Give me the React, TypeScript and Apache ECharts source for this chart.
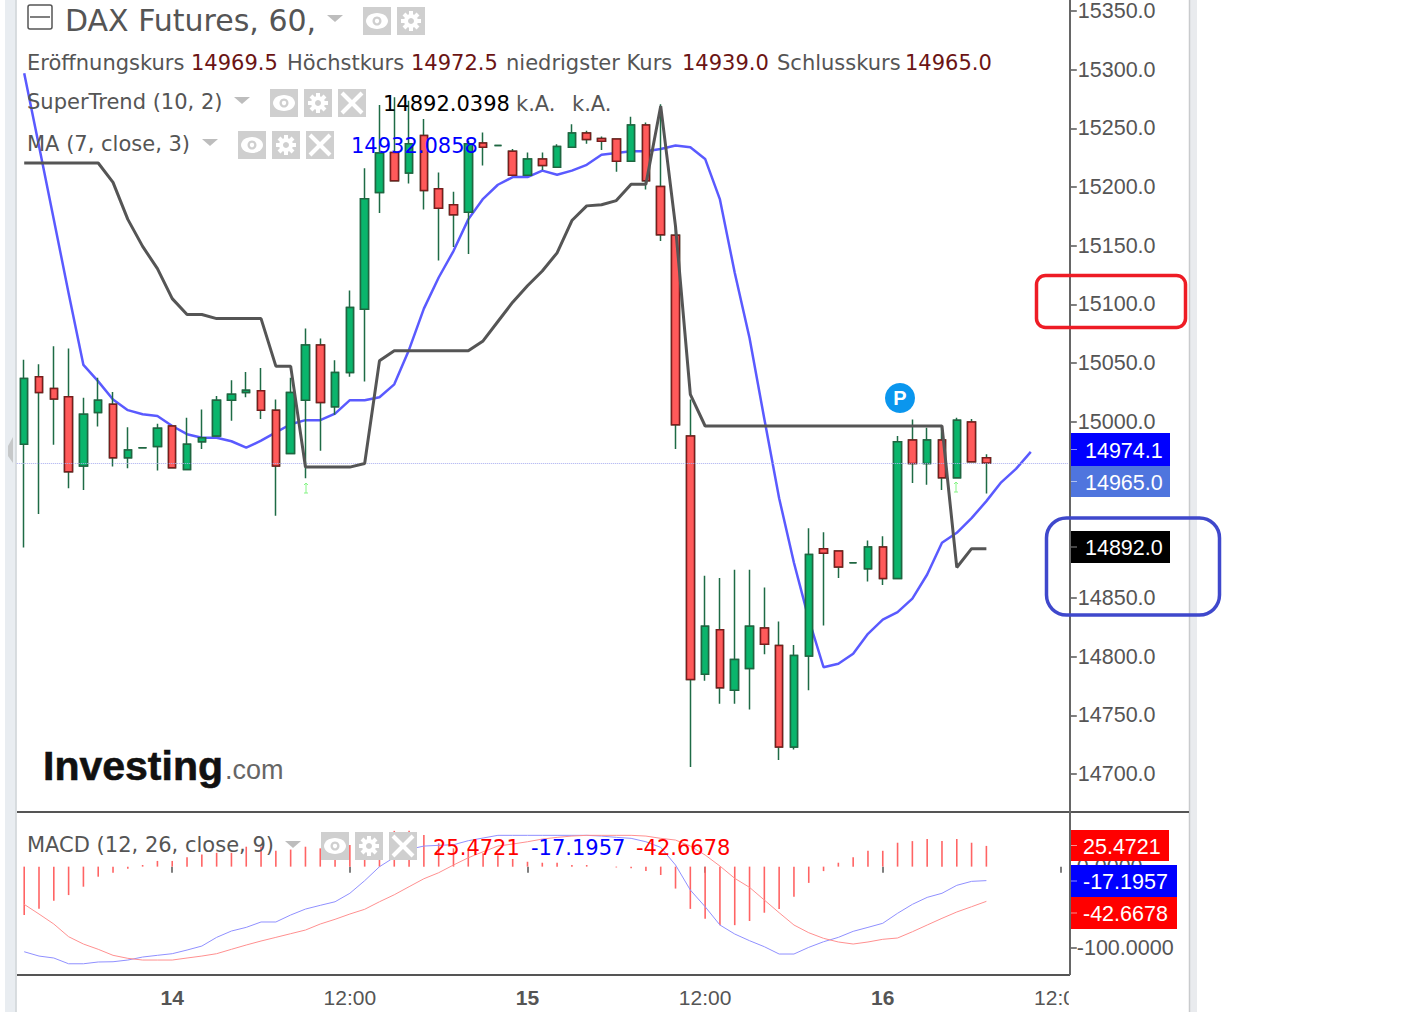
import React, { useEffect, useRef } from "react";
import * as echarts from "echarts";

// [open, close, low, high]
const candles: number[][] = [
  [14981,15037,14893,15053],[15038.5,15025,14921.5,15049],[15028.5,15019.5,14980.5,15064.5],[15021.5,14957.5,14943.5,15062.5],
  [14962.5,15006.5,14942,15020.5],[15008,15018.5,14996,15037.5],[15015,14969.5,14962,15025.5],[14969.5,14976,14960.5,14995.5],
  [14978,14978,14978,14978],[14979,14994.5,14958.5,14998.5],[14996.5,14961,14961,14996.5],[14959.5,14981,14959.5,15003.5],
  [14983,14986.5,14977,15010.5],[14988,15018.5,14988,15022],[15018.5,15023.5,15001,15035.5],[15025,15027,15021,15042.5],
  [15026.5,15010,15002.5,15046],[15010,14962.5,14920,15019],[14973,15025,14973,15037.5],[15018.5,15065.5,14952,15079.5],
  [15065.5,15016.5,14975.5,15071],[15013,15042,15006,15052.5],[15042,15097.5,15038.5,15112],[15096,15190,15034.5,15216],
  [15195.5,15229,15178,15270],[15229.5,15205.5,15205.5,15276.5],[15212,15237,15203,15273.5],[15244,15197,15181,15258],
  [15198.5,15182,15137.5,15212.5],[15185,15176.5,15149,15196],[15178.5,15237,15143,15239.5],[15237.5,15234,15218.5,15246.5],
  [15235.5,15235.5,15235.5,15235.5],[15230.5,15210,15210,15232.5],[15210,15224,15210,15229.5],[15224,15218.5,15214.5,15229.5],
  [15217,15234.5,15217,15236.5],[15234,15246,15234,15253.5],[15246,15240.5,15237,15248],[15241.5,15239,15231.5,15243],
  [15241,15222,15213,15241],[15222,15253,15222,15260],[15253,15205.5,15198,15255],[15200.5,15159.5,15154,15270.5],
  [15159,14997.5,14977,15166.5],[14988,14780.5,14706,15019],[14785,14826,14779.5,14869],[14823,14773.5,14760,14867],
  [14771.5,14797.5,14760,14874],[14790,14826,14755,14874],[14824.5,14810.5,14802,14859],[14809.5,14723,14712,14830],
  [14723,14801,14721,14810],[14800.5,14887,14771.5,14909.5],[14892,14888,14826.5,14906],[14890,14876.5,14867,14890],
  [14880,14880,14880,14880],[14875,14893.5,14864,14899],[14893.5,14866.5,14861,14902.5],[14866.5,14983,14866.5,14988],
  [14984.5,14964.5,14948,15002],[14964.5,14984.5,14946.5,14995],[14984.5,14952.5,14942,14995.5],[14952.5,15001.5,14952.5,15003.5],
  [15000,14966,14966,15002.5],[14969.5,14965,14939,14972.5],
];

const superTrend: number[] = [
  15220.5,15220.5,15220.5,15220.5,15220.5,15220.5,15204,15172.5,15149.5,15130.5,15105,15091.5,15091.5,15088,15088,15088,15088,
  15047.5,15047.5,14961.5,14961.5,14961.5,14961.5,14964.5,15052,15060.5,15060.5,15060.5,15060.5,15060.5,15060.5,15069,15085.5,
  15102,15116,15128.5,15144,15171.5,15184,15185,15188.5,15202.5,15202.5,15269,15166.5,15023.5,14996.5,14996.5,14996.5,14996.5,
  14996.5,14996.5,14996.5,14996.5,14996.5,14996.5,14996.5,14996.5,14996.5,14996.5,14996.5,14996.5,14996.5,14876,14892,14892,
];

const movingAverage: number[] = [
  15297,15235,15172.5,15109.5,15048.5,15034.5,15019,15010,15006.5,15005,14996.5,14989.5,14986.5,14986.5,14983.5,14978,14984,14991,
  14998,15001.5,15001.5,15007,15018.5,15018.5,15021,15032,15061.5,15096.5,15123,15145.5,15172.5,15190,15202,15208.5,15208.5,15214,
  15210.5,15214,15219,15227.5,15229,15230.5,15230.5,15232.5,15235.5,15234,15224,15189.5,15127,15071.5,15002.5,14935,14880,14832,
  14791,14794,14802.5,14819.5,14831.5,14838,14849.5,14870,14897,14905.5,14918,14932.5,14948.5,14960,14974.5,
];

const macdHist: number[] = [
  -59.5,-51.8,-42,-35,-24.7,-12.4,-7.5,-2.6,2,7,7,11.4,15,17,17,24.5,24.5,19.5,21,24.5,22.5,25.3,26.5,32.7,39,44,44,39,28.7,22.5,19.5,
  16.4,14,9.3,6,4.8,4.8,2,2,0,-1,-2,-5.5,-10.3,-27,-52,-64,-72,-72,-66.9,-56.7,-52,-37,-20,-5.5,4.8,11.4,19.5,19.5,29.4,31.4,34,31.4,34,29.4,25.5,
];

const macdLine: number[] = [
  -104.7,-110,-112.4,-119.5,-119.5,-117.3,-117,-114.9,-111.2,-109.1,-107.1,-102.6,-97.7,-87,-79.2,-74.7,-68.1,-68.1,-59.5,-52.2,-47.6,
  -43.2,-32.8,-17.3,-0.1,11.4,21.3,25.3,26.2,26.9,31.9,35.2,38.5,38.5,38.5,38.5,38.5,38.5,38.5,37.6,36,34.8,30.6,23.7,2,-28.8,-49.3,
  -71.8,-82.9,-91.1,-98.5,-107.5,-107.5,-99.3,-92.4,-87,-79.6,-74.7,-69.7,-57.4,-46.4,-37.8,-32.8,-23,-18.1,-17.2,
];

const signalLine: number[] = [
  -46.4,-58.3,-70.6,-86.2,-95.2,-101.7,-109.1,-112.8,-114.9,-114.9,-114.9,-112.4,-110,-107.1,-101.7,-96.4,-91.5,-87,-82.5,-78,-70.6,
  -64.8,-58.3,-52.5,-43.2,-34.6,-24.7,-14.9,-7.5,2,10.9,18.3,25.3,27.8,30.6,33.9,36,37.6,38.5,38.5,38.5,38.5,37.6,34.8,32.7,25.3,14.3,
  0.7,-14.4,-25.5,-41.1,-56.7,-71.8,-81.3,-88.2,-92.7,-95.2,-92.7,-89.4,-87.8,-80.1,-71.8,-63.6,-55.8,-49.3,-42.7,
];

const priceTicks: number[] = [14700,14750,14800,14850,14900,14950,15000,15050,15100,15150,15200,15250,15300,15350];
const macdTicks: number[] = [-100, 0];
const timeTickIndex: number[] = [10, 22, 34, 46, 58, 70];
const timeTickLabels: string[] = ["14", "12:00", "15", "12:00", "16", "12:00"];
const lastClose = 14965;
const CATEGORY_COUNT = 71;

const categories: string[] = Array.from({ length: CATEGORY_COUNT }, (_, i) => String(i));

const SANS = '"DejaVu Sans"';
const ARIAL = '"Liberation Sans"';
const GREY = "#555555";

const txt = (text: string, x: number, y: number, fill: string, size = 21, family = SANS, weight = "normal", align = "left"): any => ({
  type: "text", x, y, z: 100, silent: true,
  style: { text, fill, fontSize: size, fontFamily: family, fontWeight: weight, textAlign: align, align, verticalAlign: "middle", textVerticalAlign: "middle" },
});
const rect = (x: number, y: number, w: number, h: number, fill: string, z = 90): any => ({
  type: "rect", z, silent: true, shape: { x, y, width: w, height: h }, style: { fill },
});
const line = (x1: number, y1: number, x2: number, y2: number, stroke: string, lineWidth = 1, z = 95): any => ({
  type: "line", z, silent: true, shape: { x1, y1, x2, y2 }, style: { stroke, lineWidth },
});
const frame = (x: number, y: number, w: number, h: number, r: number, stroke: string, lineWidth: number): any => ({
  type: "rect", z: 110, silent: true, shape: { x, y, width: w, height: h, r }, style: { fill: "none", stroke, lineWidth },
});
const tri = (x: number, y: number): any => ({
  type: "polygon", z: 100, silent: true, shape: { points: [[x, y], [x + 16, y], [x + 8, y + 7]] }, style: { fill: "#bdbdbd" },
});
const eye = (x: number, y: number): any[] => [
  rect(x, y, 28, 28, "#cfcfcf", 98),
  { type: "ellipse", z: 99, silent: true, shape: { cx: x + 14, cy: y + 14, rx: 11, ry: 8 }, style: { fill: "#fff" } },
  { type: "circle", z: 99.5, silent: true, shape: { cx: x + 14, cy: y + 14, r: 4.5 }, style: { fill: "#cfcfcf" } },
  { type: "circle", z: 99.6, silent: true, shape: { cx: x + 14, cy: y + 14, r: 2.2 }, style: { fill: "#fff" } },
];
const gear = (x: number, y: number): any[] => [
  rect(x, y, 28, 28, "#cfcfcf", 98),
  line(x + 14, y + 4, x + 14, y + 24, "#fff", 4, 99),
  line(x + 4, y + 14, x + 24, y + 14, "#fff", 4, 99),
  line(x + 7, y + 7, x + 21, y + 21, "#fff", 4, 99),
  line(x + 21, y + 7, x + 7, y + 21, "#fff", 4, 99),
  { type: "circle", z: 99.4, silent: true, shape: { cx: x + 14, cy: y + 14, r: 7 }, style: { fill: "#fff" } },
  { type: "circle", z: 99.5, silent: true, shape: { cx: x + 14, cy: y + 14, r: 3 }, style: { fill: "#cfcfcf" } },
];
const cross = (x: number, y: number): any[] => [
  rect(x, y, 28, 28, "#cfcfcf", 98),
  line(x + 4, y + 4, x + 24, y + 24, "#fff", 4, 99),
  line(x + 24, y + 4, x + 4, y + 24, "#fff", 4, 99),
];
const upArrow = (x: number, y: number): any[] => [
  line(x, y - 5, x, y + 5, "#86f586", 1, 60),
  line(x - 2, y - 3, x, y - 5, "#86f586", 1, 60),
  line(x + 2, y - 3, x, y - 5, "#86f586", 1, 60),
  line(x - 2, y + 5, x + 2, y + 5, "#86f586", 1, 60),
];
const priceBox = (x: number, y: number, w: number, h: number, fill: string, label: string, textX: number): any[] => [
  rect(x, y, w, h, fill, 92),
  line(x, y + h / 2, x + 7, y + h / 2, "rgba(255,255,255,0.55)", 1, 93),
  txt(label, textX, y + h / 2 + 1, "#ffffff", 21.5, ARIAL),
];

const graphics: any[] = [
  // side strips
  rect(5, 0, 10.5, 1012, "#e9edf1", 1),
  line(16, 0, 16, 1012, "#cdd2d6", 1.5, 1),
  rect(1190, 0, 7, 1012, "#e9ebee", 1),
  line(1189.5, 0, 1189.5, 1012, "#c9cbcd", 1.5, 1),
  { type: "polygon", z: 2, silent: true, shape: { points: [[13, 437], [13, 463], [8, 456], [8, 446]] }, style: { fill: "#c6c8c9" } },
  // panel frame
  line(17, 812, 1189, 812, "#555555", 2),
  line(17, 975, 1070, 975, "#555555", 2),
  line(1070, 0, 1070, 975, "#666666", 2),
  rect(1068.8, 984, 30, 28, "#ffffff", 96),
  // header
  { type: "rect", z: 100, silent: true, shape: { x: 28, y: 5, width: 24, height: 24, r: 2 }, style: { fill: "none", stroke: "#555", lineWidth: 1.5 } },
  line(30, 17, 50, 17, "#555", 1.5, 100),
  txt("DAX Futures, 60,", 65, 20, GREY, 30),
  tri(327, 15),
  ...eye(363, 7),
  ...gear(397, 7),
  txt("Eröffnungskurs", 27, 63, GREY),
  txt("14969.5", 191, 63, "#6b1414"),
  txt("Höchstkurs", 287, 63, GREY),
  txt("14972.5", 411, 63, "#6b1414"),
  txt("niedrigster Kurs", 506, 63, GREY),
  txt("14939.0", 682, 63, "#6b1414"),
  txt("Schlusskurs", 777, 63, GREY),
  txt("14965.0", 905, 63, "#6b1414"),
  txt("SuperTrend (10, 2)", 27, 102, GREY),
  tri(234, 97),
  ...eye(270, 89),
  ...gear(304, 89),
  ...cross(338, 89),
  txt("14892.0398", 383, 104, "#000000"),
  txt("k.A.", 516, 104, GREY),
  txt("k.A.", 572, 104, GREY),
  txt("MA (7, close, 3)", 27, 144, GREY),
  tri(202, 139),
  ...eye(238, 131),
  ...gear(272, 131),
  ...cross(306, 131),
  txt("14932.0858", 351, 146, "#0000ff"),
  txt("MACD (12, 26, close, 9)", 27, 845, GREY),
  tri(285, 841),
  ...eye(321, 832),
  ...gear(355, 832),
  ...cross(389, 832),
  txt("25.4721", 433, 848, "#ff0000"),
  txt("-17.1957", 531, 848, "#0000ff"),
  txt("-42.6678", 636, 848, "#ff0000"),
  // logo
  { type: "text", z: 100, silent: true, x: 43, y: 766, style: { text: "Investing", fill: "#111111", stroke: "#111111", lineWidth: 0.6, fontSize: 41, fontFamily: ARIAL, fontWeight: "bold", verticalAlign: "middle", textVerticalAlign: "middle" } },
  txt(".com", 225, 770, "#666666", 27, ARIAL),
  // pin
  { type: "circle", z: 100, silent: true, shape: { cx: 900, cy: 398, r: 15 }, style: { fill: "#0a96ee" } },
  txt("P", 900, 398, "#ffffff", 20, ARIAL, "bold", "center"),
  ...upArrow(306, 488),
  ...upArrow(956, 487),
  // value boxes
  ...priceBox(1070, 433, 100, 33, "#0000ff", "14974.1", 1085),
  ...priceBox(1070, 466, 100, 31, "#4f75de", "14965.0", 1085),
  ...priceBox(1070, 531, 100, 32, "#000000", "14892.0", 1085),
  ...priceBox(1070, 830, 99, 31, "#ff0000", "25.4721", 1083),
  ...priceBox(1070, 865, 107, 32, "#0000ff", "-17.1957", 1083),
  ...priceBox(1070, 897, 107, 32, "#ff0000", "-42.6678", 1083),
  // annotation frames
  frame(1036.5, 275.5, 149, 52, 9, "#ee1c25", 3.5),
  frame(1046.5, 518, 173, 97, 20, "#3f48cc", 3.5),
];

const App = () => {
  const ref = useRef<HTMLDivElement>(null);
  useEffect(() => {
    if (!ref.current) return;
    const chart = echarts.init(ref.current, undefined, { renderer: "svg" });
    const isTick = (i: number) => timeTickIndex.includes(i);
    const bodies = candles.map(([o, c]) => [o, c, Math.min(o, c), Math.max(o, c)]);
    chart.setOption({
      animation: false,
      backgroundColor: "#ffffff",
      grid: [
        { left: 16.8, top: 0, width: 1051, height: 812 },
        { left: 16.8, top: 812, width: 1051, height: 163 },
      ],
      xAxis: [
        { type: "category", gridIndex: 0, data: categories, boundaryGap: true, axisLine: { show: false }, axisTick: { show: false }, axisLabel: { show: false }, splitLine: { show: false } },
        {
          type: "category", gridIndex: 1, data: categories, boundaryGap: true,
          axisLine: { show: false },
          axisTick: { show: true, alignWithLabel: true, length: 6, interval: (i: number) => isTick(i), lineStyle: { color: GREY, width: 1.5 } },
          axisLabel: {
            show: true, margin: 12, color: GREY, fontSize: 21, fontFamily: ARIAL,
            interval: (i: number) => isTick(i),
            formatter: (_: string, i: number) => {
              const label = timeTickLabels[timeTickIndex.indexOf(i)] ?? "";
              return label.includes(":") ? label : `{b|${label}}`;
            },
            rich: { b: { fontWeight: "bold", fontSize: 21, fontFamily: ARIAL, color: GREY } },
          },
          splitLine: { show: false },
        },
      ],
      yAxis: [
        {
          type: "value", gridIndex: 0, position: "right", offset: 2, min: 14667.7, max: 15352,
          axisLine: { show: false }, splitLine: { show: false },
          axisTick: { show: true, length: 7, customValues: priceTicks, lineStyle: { color: GREY, width: 1.5 } },
          axisLabel: { show: true, margin: 8, color: GREY, fontSize: 21.5, fontFamily: ARIAL, customValues: priceTicks, formatter: (v: number) => v.toFixed(1) },
        },
        {
          type: "value", gridIndex: 1, position: "right", offset: 2, min: -133.3, max: 67.2,
          axisLine: { show: false }, splitLine: { show: false },
          axisTick: { show: true, length: 7, customValues: macdTicks, lineStyle: { color: GREY, width: 1.5 } },
          axisLabel: { show: true, margin: 7, color: GREY, fontSize: 21.5, fontFamily: ARIAL, customValues: macdTicks, formatter: (v: number) => v.toFixed(4) },
        },
      ],
      series: [
        { type: "line", name: "MA", xAxisIndex: 0, yAxisIndex: 0, data: movingAverage, showSymbol: false, symbol: "none", z: 2, lineStyle: { color: "#5a5aff", width: 2.5 } },
        {
          type: "candlestick", name: "wicks", xAxisIndex: 0, yAxisIndex: 0, data: candles, barWidth: 8, z: 3,
          itemStyle: { color: "#1e6b46", color0: "#1e6b46", borderColor: "#1e6b46", borderColor0: "#1e6b46", borderColorDoji: "#1e6b46", borderWidth: 1.5 },
        },
        {
          type: "candlestick", name: "bodies", xAxisIndex: 0, yAxisIndex: 0, data: bodies, barWidth: 8, z: 4,
          itemStyle: { color: "#0ab56c", color0: "#ff5a5a", borderColor: "#1f6640", borderColor0: "#7a1c1c", borderColorDoji: "#1f6640", borderWidth: 1.5 },
        },
        {
          type: "line", name: "SuperTrend", xAxisIndex: 0, yAxisIndex: 0, data: superTrend, showSymbol: false, symbol: "none", z: 5,
          lineStyle: { color: "#555555", width: 3 },
          markLine: {
            silent: true, symbol: "none", animation: false, label: { show: false },
            lineStyle: { color: "#a9aef0", type: "dotted", width: 1 },
            data: [{ yAxis: lastClose }],
          },
        },
        { type: "bar", name: "Histogram", xAxisIndex: 1, yAxisIndex: 1, data: macdHist, barWidth: 1.6, z: 2, itemStyle: { color: "#ff6464" } },
        { type: "line", name: "MACD", xAxisIndex: 1, yAxisIndex: 1, data: macdLine, showSymbol: false, symbol: "none", z: 3, lineStyle: { color: "#9090ff", width: 1 } },
        { type: "line", name: "Signal", xAxisIndex: 1, yAxisIndex: 1, data: signalLine, showSymbol: false, symbol: "none", z: 3, lineStyle: { color: "#ff9090", width: 1 } },
      ],
      graphic: { elements: graphics },
    });
    return () => chart.dispose();
  }, []);
  return <div ref={ref} style={{ position: "absolute", left: 0, top: 0, width: 1415, height: 1026 }} />;
};

export default App;
